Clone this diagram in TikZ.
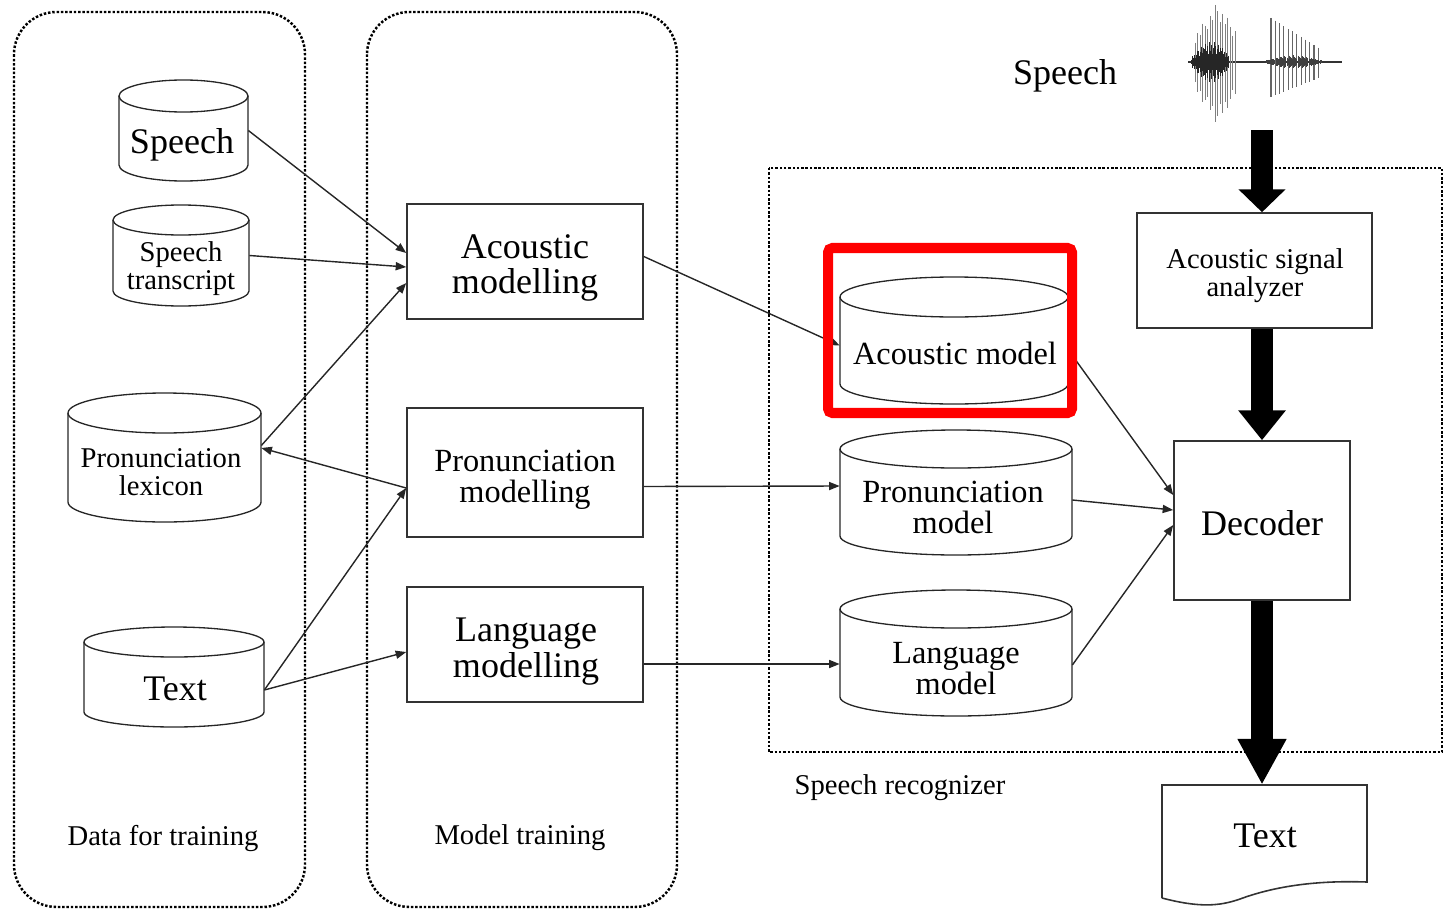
\documentclass[tikz,border=0pt]{standalone}
\usepackage{fontspec}
\setmainfont{Liberation Serif}
\usetikzlibrary{arrows.meta,calc,fit}

\newcommand\szbig{\fontsize{20.5pt}{20.4pt}\selectfont}
\newcommand\szmid{\fontsize{18.4pt}{17.6pt}\selectfont}
\newcommand\szsml{\fontsize{16.3pt}{15.9pt}\selectfont}

% database drum: #1 name, #2 left x, #3 right x, #4 lid centre y, #5 foot y, #6 rim half-height
\newcommand\drum[6]{%
  \path (#2,#4) coordinate (#1-a) (#3,#5) coordinate (#1-b);
  \node[fit=(#1-a)(#1-b), inner sep=0pt] (#1) {};
  \draw[drumline] ({(#2+#3)/2},#4) ellipse [x radius={(#3-#2)/2}, y radius=#6];
  \draw[drumline] (#2,#4) -- (#2,#5)
    .. controls (#2,{#5+0.552*#6}) and ({(#2+#3)/2-0.552*(#3-#2)/2},{#5+#6}) .. ({(#2+#3)/2},{#5+#6})
    .. controls ({(#2+#3)/2+0.552*(#3-#2)/2},{#5+#6}) and (#3,{#5+0.552*#6}) .. (#3,#5) -- (#3,#4);
}

\begin{document}
\begin{tikzpicture}[x=0.02cm, y=-0.02cm,
  dotframe/.style={line width=1.4pt, dash pattern=on 1.4pt off 1.05pt},
  box/.style={draw=black!80, line width=0.9pt, inner sep=0pt},
  drumline/.style={draw=black!85, line width=0.75pt},
  txt/.style={align=center, inner sep=0pt},
  conn/.style={draw=black!85, line width=0.8pt, -{Triangle[length=6pt,width=4.6pt]}},
  bigarrow/.style={line width=12.5pt, -{Triangle[width=26pt,length=#1]}}]
\useasboundingbox (0,0) rectangle (1449,909);

% group frames
\draw[dotframe, rounded corners=0.85cm] (14,12) rectangle (305,907);
\draw[dotframe, rounded corners=0.85cm] (367,12) rectangle (677,907);
\draw[dotframe] (769,168) rectangle (1442,752);
\node[txt, font=\szsml] (lbdata) at (163,838) {Data for training};
\node[txt, font=\szsml] (lbmodel) at (520,838) {Model training};
\node[txt, font=\szsml] (lbrec) at (900,788) {Speech recognizer};

% training data
\drum{spc}{119}{248}{96}{165}{16}
\node[txt, font=\szbig] (spct) at (182,145) {Speech};
\drum{trn}{113}{249}{220}{291}{15}
\node[txt, font=\szsml] (trnt) at (181,269) {Speech\\transcript};
\drum{lex}{68}{261}{413}{502}{20}
\node[txt, font=\szsml] (lext) at (161,472) {Pronunciation\\lexicon};
\drum{txc}{84}{264}{642}{712}{15}
\node[txt, font=\szbig] (txct) at (175,689) {Text};

% training stages
\node[box, fit={(407,204)(643,319)}] (am) {};
\node[txt, font=\szbig] (amt) at (525,268) {Acoustic\\modelling};
\node[box, fit={(407,408)(643,537)}] (pmod) {};
\node[txt, font=\szmid] (pmodt) at (525,480) {Pronunciation\\modelling};
\node[box, fit={(407,587)(643,702)}] (lmod) {};
\node[txt, font=\szbig] (lmodt) at (526,652) {Language\\modelling};

% recognizer models
\drum{acm}{840}{1068}{297}{384}{20}
\node[txt, font=\szmid] (acmt) at (955,353) {Acoustic model};
\drum{pmd}{840}{1072}{449}{536}{19}
\node[txt, font=\szmid] (pmdt) at (953,507) {Pronunciation\\model};
\drum{lmd}{840}{1072}{609}{697}{19}
\node[txt, font=\szmid] (lmdt) at (956,669) {Language\\model};

\node[box, fit={(1137,213)(1372,328)}] (ana) {};
\node[txt, font=\szsml] (anat) at (1255,276) {Acoustic signal\\analyzer};
\node[box, fit={(1174,441)(1350,600)}] (dec) {};
\node[txt, font=\szbig] (dect) at (1262,523) {Decoder};

% output document
\node[fit={(1162,785)(1367,905)}, inner sep=0pt] (out) {};
\draw[box] (1162,898) -- (1162,785) -- (1367,785) -- (1367,882)
  .. controls (1310,880) and (1270,888) .. (1240,899)
  .. controls (1220,906) and (1200,908) .. (1162,898);
\node[txt, font=\szbig] (outt) at (1265,836) {Text};

% speech input waveform
\node[txt, font=\szbig] (spin) at (1065,76) {Speech};
\draw[black!80, line width=0.6pt] (1188,62) -- (1342,62);
\foreach \i in {0,...,16}{
  \pgfmathsetmacro\xx{1195+2.5*\i}
  \pgfmathsetmacro\aa{max(10,60-1.5*abs(\xx-1217))*(0.72+0.28*mod(3*\i,5)/4)}
  \draw[black!50, line width=0.55pt] (\xx,{62-\aa}) -- (\xx,{62+1.05*\aa});
}
\foreach \i in {0,...,44}{
  \pgfmathsetmacro\xx{1191+0.85*\i}
  \pgfmathsetmacro\aa{2+18*sin(180*(\xx-1190)/42)*(0.35+0.65*mod(7*\i,5)/4)}
  \draw[black!85, line width=0.4pt] (\xx,{62-\aa}) -- (\xx,{62+\aa});
}
\foreach \i in {0,...,11}{
  \pgfmathsetmacro\xx{1271+4.3*\i}
  \pgfmathsetmacro\up{44-2.7*\i}
  \pgfmathsetmacro\dn{35-1.7*\i}
  \draw[black!60, line width=0.6pt] (\xx,{62-\up}) -- (\xx,{62+\dn});
}
\foreach \i in {0,...,50}{
  \pgfmathsetmacro\xx{1266+1.1*\i}
  \pgfmathsetmacro\aa{1.5+5*sin(180*\i/50)*(0.4+0.6*mod(3*\i,4)/3)}
  \draw[black!75, line width=0.4pt] (\xx,{62-\aa}) -- (\xx,{62+\aa});
}
\coordinate (wv) at (1262,130);

% thin connectors
\draw[conn] (spc.east) -- ($(am.west)+(0,-8.5)$);
\draw[conn] (trn.east) -- ($(am.west)+(0,5.5)$);
\draw[conn] ($(lex.east)+(0,-12)$) -- ($(am.west)+(0,21.5)$);
\draw[conn] ($(pmod.west)+(0,15.5)$) -- ($(lex.east)+(0,-9.5)$);
\draw[conn] ($(txc.east)+(0,13)$) -- ($(pmod.west)+(0,15.5)$);
\draw[conn] ($(txc.east)+(0,13)$) -- ($(lmod.west)+(0,7.5)$);
\draw[conn] ($(am.east)+(0,-5)$) -- ($(acm.west)+(0,5)$);
\draw[conn] ($(pmod.east)+(0,14)$) -- ($(pmd.west)+(0,-6.5)$);
\draw[conn] ($(lmod.east)+(0,19.5)$) -- ($(lmd.west)+(0,11)$);
\draw[conn] ($(acm.east)+(0,9.5)$) -- ($(dec.west)+(0,-25.5)$);
\draw[conn] ($(pmd.east)+(0,7.5)$) -- ($(dec.west)+(0,-10.5)$);
\draw[conn] ($(lmd.east)+(0,12)$) -- ($(dec.west)+(0,4.5)$);

% main signal path
\draw[bigarrow=13pt] (wv) -- (wv |- ana.north);
\draw[bigarrow=17pt] (ana.south -| dec.north) -- (dec.north);
\draw[bigarrow=26pt] (dec.south) -- (dec.south |- out.north);

% highlight
\draw[red, line width=5.7pt, rounded corners=2.5pt] (828,248) rectangle (1072,413);
\end{tikzpicture}
\end{document}
